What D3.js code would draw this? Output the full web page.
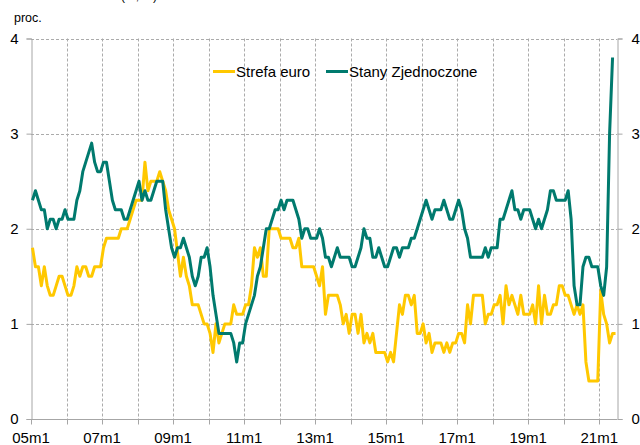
<!DOCTYPE html>
<html>
<head>
<meta charset="utf-8">
<script src="https://cdn.jsdelivr.net/npm/d3@7"></script>
<style>
  html, body { margin: 0; padding: 0; background: #fff; }
  svg { display: block; }
  text { font-family: "Liberation Sans", Arial, sans-serif; fill: #000; }
</style>
</head>
<body>
<svg id="chart" width="640" height="445"></svg>
<script>
// ---------------- data ----------------
const startYear = 2005;
const nCategories = 198; // 05m1 .. 21m6
const categories = d3.range(nCategories).map(i => {
  const yy = startYear + Math.floor(i / 12), m = (i % 12) + 1;
  return String(yy % 100).padStart(2, "0") + "m" + m;
});

const seriesNames = ["Strefa euro", "Stany Zjednoczone"];

const euroValues = [
  1.8, 1.6, 1.6, 1.4, 1.6, 1.4, 1.3, 1.3, 1.4, 1.5, 1.5, 1.4,
  1.3, 1.3, 1.4, 1.6, 1.5, 1.6, 1.6, 1.5, 1.5, 1.6, 1.6, 1.6,
  1.8, 1.9, 1.9, 1.9, 1.9, 1.9, 2.0, 2.0, 2.0, 2.1, 2.2, 2.3,
  2.3, 2.3, 2.7, 2.4, 2.5, 2.5, 2.5, 2.6, 2.5, 2.4, 2.2, 2.1,
  2.0, 1.75, 1.5, 1.7, 1.5, 1.4, 1.2, 1.2, 1.2, 1.1, 1.0, 1.0,
  0.9, 0.7, 1.0, 0.8, 0.9, 1.0, 1.0, 1.0, 1.2, 1.1, 1.1, 1.1,
  1.2, 1.2, 1.4, 1.8, 1.7, 1.8, 1.5, 1.5, 2.0, 2.0, 2.0, 2.0,
  1.9, 1.9, 1.9, 1.9, 1.8, 1.8, 1.9, 1.6, 1.6, 1.6, 1.6, 1.6,
  1.5, 1.4, 1.6, 1.1, 1.3, 1.3, 1.3, 1.3, 1.2, 1.0, 1.1, 0.9,
  1.1, 1.1, 0.9, 1.1, 0.8, 0.9, 0.8, 0.9, 0.7, 0.7, 0.7, 0.7,
  0.6, 0.7, 0.6, 0.9, 1.2, 1.1, 1.3, 1.3, 1.2, 1.3, 0.9, 0.9,
  1.0, 0.8, 0.9, 0.7, 0.8, 0.8, 0.8, 0.7, 0.8, 0.7, 0.8, 0.8,
  0.9, 0.9, 0.8, 1.2, 1.0, 1.3, 1.3, 1.3, 1.3, 1.0, 1.1, 1.1,
  1.2, 1.2, 1.3, 1.0, 1.4, 1.2, 1.3, 1.2, 1.1, 1.3, 1.1, 1.1,
  1.1, 1.2, 1.0, 1.4, 1.0, 1.3, 1.1, 1.1, 1.2, 1.2, 1.4, 1.4,
  1.3, 1.3, 1.2, 1.1, 1.2, 1.1, 1.2, 0.6, 0.4, 0.4, 0.4, 0.4,
  1.35, 1.1, 1.0, 0.8, 0.9, 0.9
];

const usValues = [
  2.3, 2.4, 2.3, 2.2, 2.2, 2.0, 2.1, 2.1, 2.0, 2.1, 2.1, 2.2,
  2.1, 2.1, 2.1, 2.3, 2.4, 2.6, 2.7, 2.8, 2.9, 2.7, 2.6, 2.6,
  2.7, 2.7, 2.5, 2.3, 2.2, 2.2, 2.2, 2.1, 2.1, 2.2, 2.3, 2.4,
  2.5, 2.3, 2.4, 2.3, 2.3, 2.4, 2.5, 2.5, 2.5, 2.2, 2.0, 1.8,
  1.7, 1.8, 1.8, 1.9, 1.8, 1.7, 1.5, 1.4, 1.5, 1.7, 1.7, 1.8,
  1.6, 1.3, 1.1, 0.9, 0.9, 0.9, 0.9, 0.9, 0.8, 0.6, 0.8, 0.8,
  1.0, 1.1, 1.2, 1.3, 1.5, 1.6, 1.8, 2.0, 2.0, 2.1, 2.2, 2.2,
  2.3, 2.2, 2.3, 2.3, 2.3, 2.2, 2.1, 1.9, 2.0, 2.0, 1.9, 1.9,
  1.9, 2.0, 1.9, 1.7, 1.7, 1.6, 1.7, 1.8, 1.7, 1.7, 1.7, 1.7,
  1.6, 1.6, 1.7, 1.8, 2.0, 1.9, 1.9, 1.7, 1.7, 1.8, 1.7, 1.6,
  1.6, 1.7, 1.8, 1.8, 1.7, 1.8, 1.8, 1.8, 1.9, 1.9, 2.0, 2.1,
  2.2, 2.3, 2.2, 2.1, 2.2, 2.2, 2.2, 2.3, 2.2, 2.1, 2.1, 2.2,
  2.3, 2.2, 2.0, 1.9, 1.7, 1.7, 1.7, 1.7, 1.7, 1.8, 1.7, 1.8,
  1.8, 1.8, 2.1, 2.1, 2.2, 2.3, 2.4, 2.2, 2.2, 2.1, 2.2, 2.2,
  2.2, 2.1, 2.0, 2.1, 2.0, 2.1, 2.2, 2.4, 2.4, 2.3, 2.3, 2.3,
  2.3, 2.4, 2.1, 1.4, 1.2, 1.2, 1.6, 1.7, 1.7, 1.6, 1.6, 1.6,
  1.4, 1.3, 1.6, 3.0, 3.8
];

const xTickLabels = ["05m1", "07m1", "09m1", "11m1", "13m1", "15m1", "17m1", "19m1", "21m1"];
const yTicks = [0, 1, 2, 3, 4];
const colors = ["#FFC800", "#007A6E"];

// ---------------- layout ----------------
(function draw() {
  const svg = d3.select("#chart");
  const pL = 31, pR = 617, pT = 38.5, pB = 419;

  const x = d3.scaleBand().domain(categories).range([pL, pR]).padding(0);
  const y = d3.scaleLinear().domain([0, 4]).range([pB, pT]);
  const cx = c => x(c) + x.bandwidth() / 2;

  const gridColor = "#ababab";
  const axisColor = "#a6a6a6";

  // horizontal gridlines
  svg.append("g").selectAll("line")
    .data(yTicks.filter(v => v > 0))
    .join("line")
    .attr("x1", pL).attr("x2", pR)
    .attr("y1", d => Math.round(y(d)) + 0.5).attr("y2", d => Math.round(y(d)) + 0.5)
    .attr("stroke", gridColor).attr("stroke-width", 1)
    .attr("stroke-dasharray", "3,2");

  // vertical gridlines at each January
  const janCats = categories.filter(c => c.endsWith("m1"));
  svg.append("g").selectAll("line")
    .data(janCats.slice(1))
    .join("line")
    .attr("x1", d => Math.round(x(d)) + 0.5).attr("x2", d => Math.round(x(d)) + 0.5)
    .attr("y1", pT).attr("y2", pB)
    .attr("stroke", gridColor).attr("stroke-width", 1)
    .attr("stroke-dasharray", "3,2");

  // bottom axis
  const gx = svg.append("g").attr("transform", `translate(0,${Math.round(pB) + 0.5})`);
  gx.append("line").attr("x1", pL).attr("x2", pR).attr("y1", 0).attr("y2", 0)
    .attr("stroke", axisColor);
  gx.selectAll("line.tick").data(janCats).join("line").attr("class", "tick")
    .attr("x1", d => Math.round(x(d)) + 0.5).attr("x2", d => Math.round(x(d)) + 0.5)
    .attr("y1", 0).attr("y2", 5).attr("stroke", axisColor);
  gx.selectAll("text").data(xTickLabels).join("text")
    .attr("x", d => x(d)).attr("y", 23.5)
    .attr("text-anchor", "middle").style("font-size", "15px")
    .text(d => d);

  // left and right axes
  const yAxisL = d3.axisLeft(y).tickValues(yTicks).tickSize(5).tickPadding(8).tickFormat(d3.format("d"));
  const gl = svg.append("g").attr("transform", `translate(${pL + 0.5},0)`).call(yAxisL);
  const yAxisR = d3.axisRight(y).tickValues(yTicks).tickSize(5).tickPadding(9).tickFormat(d3.format("d"));
  const gr = svg.append("g").attr("transform", `translate(${pR + 0.5},0)`).call(yAxisR);
  [gl, gr].forEach(g => {
    g.select(".domain").attr("stroke", axisColor);
    g.selectAll(".tick line").attr("stroke", axisColor);
    g.selectAll(".tick text").style("font-size", "15px").attr("fill", "#000")
      .style("font-family", '"Liberation Sans", Arial, sans-serif').attr("dy", "0.3em");
  });

  // series lines
  const line = d3.line()
    .x((d, i) => cx(categories[i]))
    .y(d => y(d));
  [euroValues, usValues].forEach((vals, k) => {
    svg.append("path")
      .datum(vals)
      .attr("d", line)
      .attr("fill", "none")
      .attr("stroke", colors[k])
      .attr("stroke-width", 3)
      .attr("stroke-linejoin", "round");
  });

  // unit label
  svg.append("text").attr("x", 14).attr("y", 22).style("font-size", "12.5px").text("proc.");
  // partially clipped header text (only its descenders show, as in the reference)
  svg.append("text").attr("x", 121).attr("y", -0.5).style("font-size", "12px").text("(r/r, %)");

  // legend
  const legendItems = [
    { name: seriesNames[0], color: colors[0], x0: 213, tx: 236 },
    { name: seriesNames[1], color: colors[1], x0: 326, tx: 349 }
  ];
  const lg = svg.append("g");
  legendItems.forEach(it => {
    lg.append("line").attr("x1", it.x0).attr("x2", it.x0 + 22)
      .attr("y1", 71.5).attr("y2", 71.5)
      .attr("stroke", it.color).attr("stroke-width", 3);
    lg.append("text").attr("x", it.tx).attr("y", 77)
      .style("font-size", "15px").text(it.name);
  });
})();
</script>
</body>
</html>
